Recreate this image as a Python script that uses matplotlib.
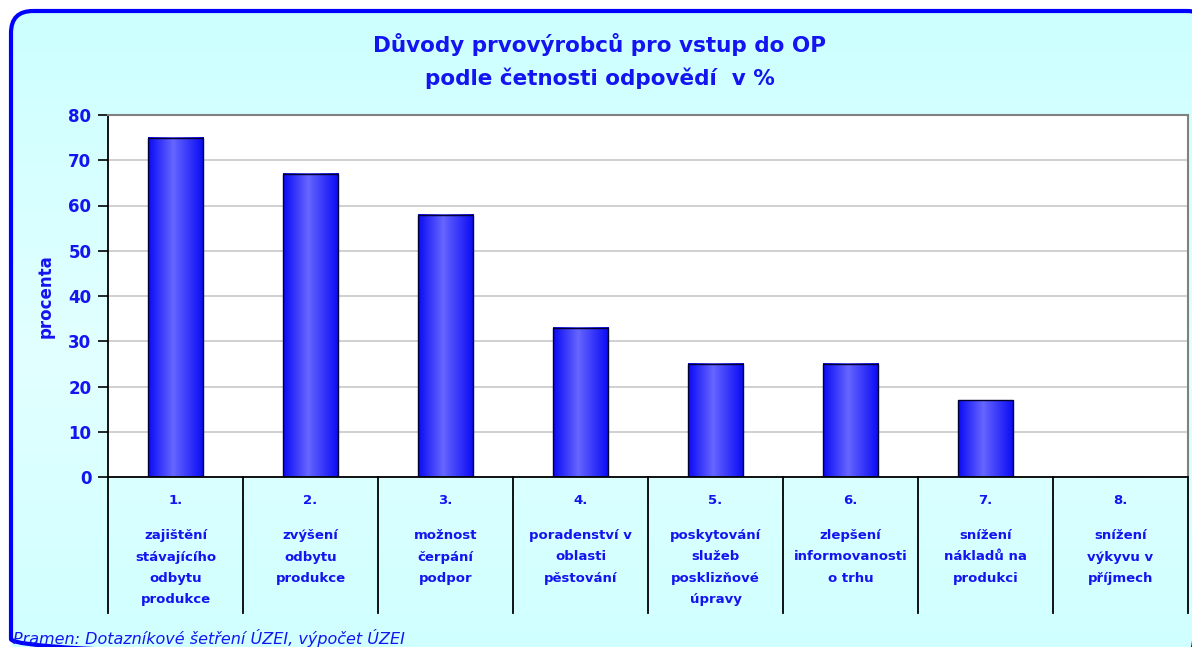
import numpy as np
import matplotlib.pyplot as plt
from matplotlib.patches import FancyBboxPatch
from matplotlib.colors import LinearSegmentedColormap
import matplotlib.transforms as mtransforms

plt.rcParams['font.family'] = ['DejaVu Sans']

# data
numbers = ["1.", "2.", "3.", "4.", "5.", "6.", "7.", "8."]
reasons = [
    "zajištění\nstávajícího\nodbytu\nprodukce",
    "zvýšení\nodbytu\nprodukce",
    "možnost\nčerpání\npodpor",
    "poradenství v\noblasti\npěstování",
    "poskytování\nslužeb\nposklizňové\núpravy",
    "zlepšení\ninformovanosti\no trhu",
    "snížení\nnákladů na\nprodukci",
    "snížení\nvýkyvu v\npříjmech",
]
percent = [75, 67, 58, 33, 25, 25, 17, 0]
yticks = [0, 10, 20, 30, 40, 50, 60, 70, 80]

BLUE = '#1414F0'
W, H = 1192, 647

fig = plt.figure(figsize=(W / 100, H / 100), dpi=100)
fig.patch.set_facecolor('white')

# background frame (pixel coordinates)
bg = fig.add_axes([0, 0, 1, 1])
bg.axis('off')
frame = FancyBboxPatch((11, 11), 1198, 650, boxstyle="round,pad=0,rounding_size=22",
                       fc='none', ec='#0000FF', lw=3, zorder=3)
bg.add_patch(frame)
g = np.linspace(0, 1, 256)
g = 1 - np.abs(g - 0.55) * 1.4
g = np.clip(g, 0, 1)[:, None]
bg_cmap = LinearSegmentedColormap.from_list('bg', ['#CCFFFF', '#E2FFFF'])
im = bg.imshow(g, extent=[0, W, H, 0], cmap=bg_cmap, aspect='auto', zorder=1)
im.set_clip_path(frame)
bg.set_xlim(0, W)
bg.set_ylim(H, 0)

fig.text(0.503, 1 - 45 / H, "Důvody prvovýrobců pro vstup do OP",
         ha='center', va='center', fontsize=15.5, fontweight='bold', color=BLUE)
fig.text(0.503, 1 - 78 / H, "podle četnosti odpovědí  v %",
         ha='center', va='center', fontsize=15.5, fontweight='bold', color=BLUE)
fig.text(46 / W, 1 - 296 / H, "procenta", rotation=90, ha='center', va='center',
         fontsize=12, fontweight='bold', color=BLUE)
fig.text(13 / W, 1 - 638 / H, "Pramen: Dotazníkové šetření ÚZEI, výpočet ÚZEI",
         ha='left', va='center', fontsize=11.5, style='italic', color=BLUE)

# plot area
ax = fig.add_axes([108 / W, 1 - 477 / H, 1080 / W, 362 / H])
ax.set_facecolor('white')
x = np.arange(len(percent))
bars = ax.bar(x, percent, width=0.41, color='none', edgecolor='#000030', lw=1, zorder=3)

bar_cmap = LinearSegmentedColormap.from_list(
    'bar', [(0, '#0A0AF5'), (0.45, '#6666FF'), (1, '#0A0AF5')])
grad = np.linspace(0, 1, 128)[None, :]
for b in bars:
    if b.get_height() <= 0:
        continue
    ax.imshow(grad, extent=[b.get_x(), b.get_x() + b.get_width(), 0, b.get_height()],
              cmap=bar_cmap, aspect='auto', zorder=2.5)

ax.set_xlim(-0.5, len(percent) - 0.5)
ax.set_ylim(0, 80)
ax.set_yticks(yticks)
ax.yaxis.grid(True, color='#C8C8C8', lw=1.2)
ax.set_axisbelow(True)
ax.set_xticks([])
ax.tick_params(axis='y', direction='out', length=7, width=1.2, colors='black', pad=5)
for lbl in ax.get_yticklabels():
    lbl.set_fontsize(12)
    lbl.set_fontweight('bold')
    lbl.set_color(BLUE)
ax.spines['left'].set_color('black')
ax.spines['left'].set_linewidth(1.3)
ax.spines['bottom'].set_color('black')
ax.spines['bottom'].set_linewidth(1.3)
ax.spines['top'].set_color('#808080')
ax.spines['right'].set_color('#808080')
ax.spines['top'].set_linewidth(1.5)
ax.spines['right'].set_linewidth(1.5)

# category table below the axis
trans = mtransforms.blended_transform_factory(ax.transData, ax.transAxes)
depth = -(613 - 477) / 362
for edge in np.arange(len(percent) + 1) - 0.5:
    ax.plot([edge, edge], [0, depth], color='black', lw=1.3, transform=trans, clip_on=False)
for i, (num, txt) in enumerate(zip(numbers, reasons)):
    ax.text(i, -(500 - 477) / 362, num, transform=trans, ha='center', va='center',
            fontsize=9.5, fontweight='bold', color=BLUE)
    ax.text(i, -(529 - 477) / 362, txt, transform=trans, ha='center', va='top',
            fontsize=9.5, fontweight='bold', color=BLUE, linespacing=1.85)

fig.savefig('out.png', dpi=100)
